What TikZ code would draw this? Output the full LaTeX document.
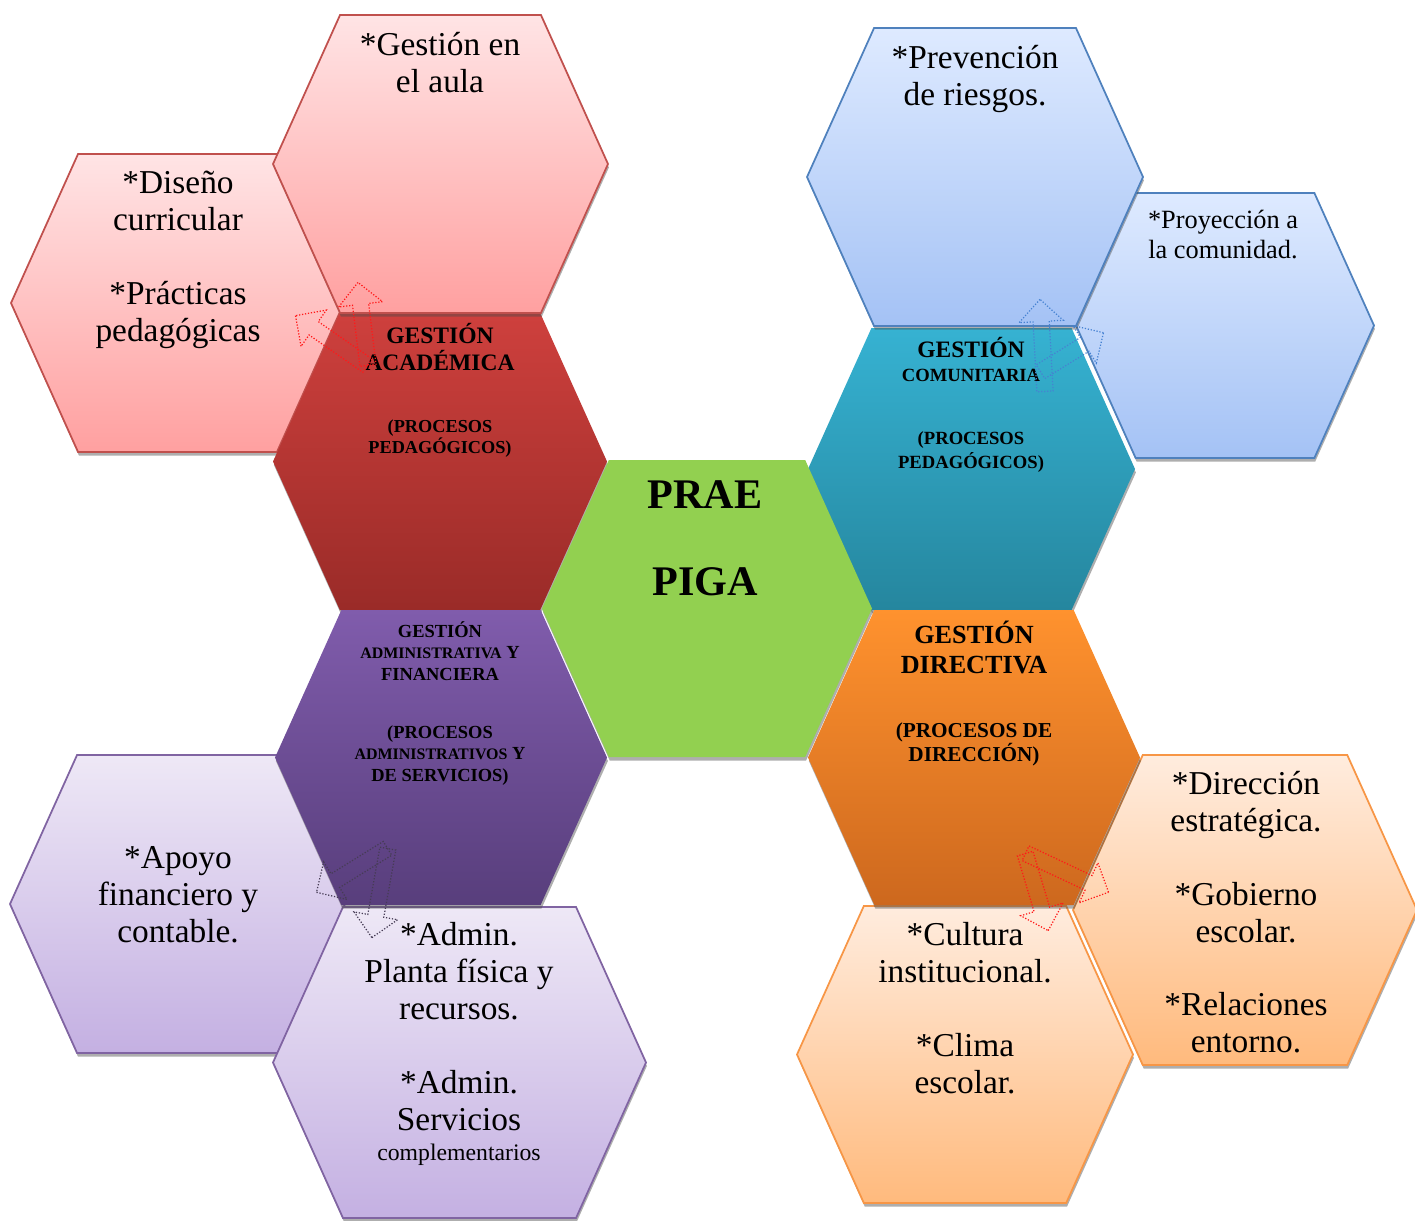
\documentclass[tikz,border=0pt]{standalone}
\usepackage{fontspec}
\setmainfont{Liberation Serif}
\usetikzlibrary{calc,shadows,shapes.arrows}
\definecolor{acadtop}{RGB}{206,64,61}
\definecolor{acadbot}{RGB}{154,43,40}
\definecolor{comtop}{RGB}{54,178,210}
\definecolor{combot}{RGB}{37,134,158}
\definecolor{dirtop}{RGB}{255,146,46}
\definecolor{dirbot}{RGB}{205,104,30}
\definecolor{admtop}{RGB}{128,92,172}
\definecolor{admbot}{RGB}{88,62,124}
\definecolor{prae}{RGB}{146,208,80}
\definecolor{redtop}{RGB}{255,228,229}
\definecolor{redbot}{RGB}{255,160,160}
\definecolor{redline}{RGB}{192,80,77}
\definecolor{bluetop}{RGB}{222,234,255}
\definecolor{bluebot}{RGB}{164,194,245}
\definecolor{blueline}{RGB}{79,129,189}
\definecolor{orgtop}{RGB}{255,236,222}
\definecolor{orgbot}{RGB}{255,186,125}
\definecolor{orgline}{RGB}{247,150,70}
\definecolor{purtop}{RGB}{238,232,246}
\definecolor{purbot}{RGB}{196,176,226}
\definecolor{purline}{RGB}{128,100,162}
\definecolor{arrowblue}{RGB}{70,130,210}
\definecolor{arrowgray}{RGB}{70,60,85}
\tikzset{%
  hexshadow/.style={drop shadow={shadow xshift=0.5pt, shadow yshift=-2pt, fill=black!70, opacity=0.45}},
  centralhex/.style 2 args={hexshadow, top color=#1, bottom color=#2},% dark middle ring
  redhex/.style={hexshadow, top color=redtop, bottom color=redbot, draw=redline, line width=1pt},
  bluehex/.style={hexshadow, top color=bluetop, bottom color=bluebot, draw=blueline, line width=1pt},
  orghex/.style={hexshadow, top color=orgtop, bottom color=orgbot, draw=orgline, line width=1pt},
  purhex/.style={hexshadow, top color=purtop, bottom color=purbot, draw=purline, line width=1pt},
  outertxt/.style={font=\fontsize{19}{21}\selectfont, align=center, inner sep=0pt, anchor=north},
  titletxt/.style={align=center, inner sep=0pt, anchor=north},
  blockarrow/.style={draw=#1, shape=single arrow, densely dotted, line width=0.7pt,
    inner sep=0.15cm, single arrow head extend=0.28cm}% outlined block arrows
}
% hexagon: name, cx, cy, width, height, style
\newcommand*{\hexa}[6]{%
  \coordinate (#1) at (#2,#3);
  \path[#6] ($(#1)+({-#4/2},0)$) -- ++({0.225*#5},{-#5/2}) -- ++({#4-0.45*#5},0)
    -- ($(#1)+({#4/2},0)$) -- ++({-0.225*#5},{#5/2}) -- ++({-(#4-0.45*#5)},0) -- cycle;}
% block arrow from tail to tip
\newcommand*{\flecha}[3]{%
  \path let \p1=($(#3)-(#2)$) in
    node[blockarrow=#1, rotate={atan2(\y1,\x1)}, minimum height={veclen(\x1,\y1)}, anchor=tail] at (#2) {};}

\begin{document}
\begin{tikzpicture}[x=0.02cm, y=-0.02cm]
\useasboundingbox (0,0) rectangle (1415,1220);

\hexa{diseno}{177.5}{303}{333}{298}{redhex}
\hexa{proyeccion}{1225}{325.5}{298}{265}{bluehex}
\hexa{direccion}{1245}{910}{344}{310}{orghex}
\hexa{cultura}{965}{1054.5}{336}{297}{orghex}
\hexa{apoyo}{177.5}{904}{335}{298}{purhex}
\hexa{planta}{459.5}{1062.5}{373}{311}{purhex}

\hexa{academica}{440}{461.5}{334}{297}{centralhex={acadtop}{acadbot}}
\hexa{comunitaria}{971.5}{469}{327}{282}{centralhex={comtop}{combot}}
\hexa{directiva}{974}{757.5}{332}{295}{centralhex={dirtop}{dirbot}}
\hexa{administrativa}{441}{757.5}{332}{295}{centralhex={admtop}{admbot}}
\hexa{centro}{707}{608.5}{330}{297}{centralhex={prae}{prae}}

\hexa{aula}{440.5}{164}{335}{298}{redhex}
\hexa{prevencion}{975}{177}{336}{298}{bluehex}

% texts
\node[titletxt, font=\bfseries\fontsize{24}{27.5}\selectfont] (praetxt) at (705,480) {PRAE\\[22pt]PIGA};

\node[titletxt, font=\bfseries\fontsize{13.4}{15.4}\selectfont] (acad1) at (440,323) {GESTIÓN\\ACADÉMICA};
\node[titletxt, font=\bfseries\fontsize{10.4}{12}\selectfont] (acad2) at (440,419) {(PROCESOS\\PEDAGÓGICOS)};
\node[titletxt, font=\bfseries\fontsize{10.6}{13.4}\selectfont] (com1) at (971,337) {{\fontsize{13.4}{15}\selectfont GESTIÓN}\\COMUNITARIA};
\node[titletxt, font=\bfseries\fontsize{10.6}{13.6}\selectfont] (com2) at (971,431) {(PROCESOS\\PEDAGÓGICOS)};
\node[titletxt, font=\bfseries\fontsize{14.9}{17}\selectfont] (dir1) at (974,621) {GESTIÓN\\DIRECTIVA};
\node[titletxt, font=\bfseries\fontsize{12.1}{13.7}\selectfont] (dir2) at (974,722) {(PROCESOS DE\\DIRECCIÓN)};
\node[titletxt, font=\bfseries\fontsize{10.5}{12.2}\selectfont] (adm1) at (440,621) {GESTIÓN\\{\fontsize{9.1}{11}\selectfont ADMINISTRATIVA} Y\\FINANCIERA};
\node[titletxt, font=\bfseries\fontsize{10.5}{12.2}\selectfont] (adm2) at (440,725) {(PROCESOS\\{\fontsize{9.1}{11}\selectfont ADMINISTRATIVOS} Y\\DE SERVICIOS)};

\node[outertxt] (aulatxt) at (440,32) {*Gestión en\\el aula};
\node[outertxt] (disenotxt) at (178,171) {*Diseño\\curricular\\[21pt]*Prácticas\\pedagógicas};
\node[outertxt] (prevtxt) at (975,45) {*Prevención\\de riesgos.};
\node[outertxt, font=\fontsize{15}{17}\selectfont] (proytxt) at (1223,210) {*Proyección a\\la comunidad.};
\node[outertxt] (dirtxt) at (1246,771) {*Dirección\\estratégica.\\[21pt]*Gobierno\\escolar.\\[21pt]*Relaciones\\entorno.};
\node[outertxt] (cultxt) at (965,922) {*Cultura\\institucional.\\[21pt]*Clima\\escolar.};
\node[outertxt] (apoyotxt) at (178,846) {*Apoyo\\financiero y\\contable.};
\node[outertxt] (plantatxt) at (459,922) {*Admin.\\Planta física y\\recursos.\\[21pt]*Admin.\\Servicios};
\node[outertxt, font=\fontsize{13.5}{15}\selectfont] (comptxt) at (459,1144) {complementarios};

% block arrows
\coordinate (ra0) at (368,366);
\coordinate (ra1) at (358,283);
\coordinate (ra2) at (296,316);
\coordinate (ba0) at (1045,392);
\coordinate (ba1) at (1040,300);
\coordinate (ba2) at (1040,372);
\coordinate (ba3) at (1103,333);
\coordinate (pa0) at (388,848);
\coordinate (pa1) at (317,892);
\coordinate (pa2) at (372,937);
\coordinate (oa0) at (1025,853);
\coordinate (oa1) at (1108,892);
\coordinate (oa2) at (1048,930);

\flecha{red!90}{ra0}{ra1}
\flecha{red!90}{ra0}{ra2}
\flecha{arrowblue}{ba0}{ba1}
\flecha{arrowblue}{ba2}{ba3}
\flecha{arrowgray}{pa0}{pa1}
\flecha{arrowgray}{pa0}{pa2}
\flecha{red!90}{oa0}{oa1}
\flecha{red!90}{oa0}{oa2}

\end{tikzpicture}
\end{document}
